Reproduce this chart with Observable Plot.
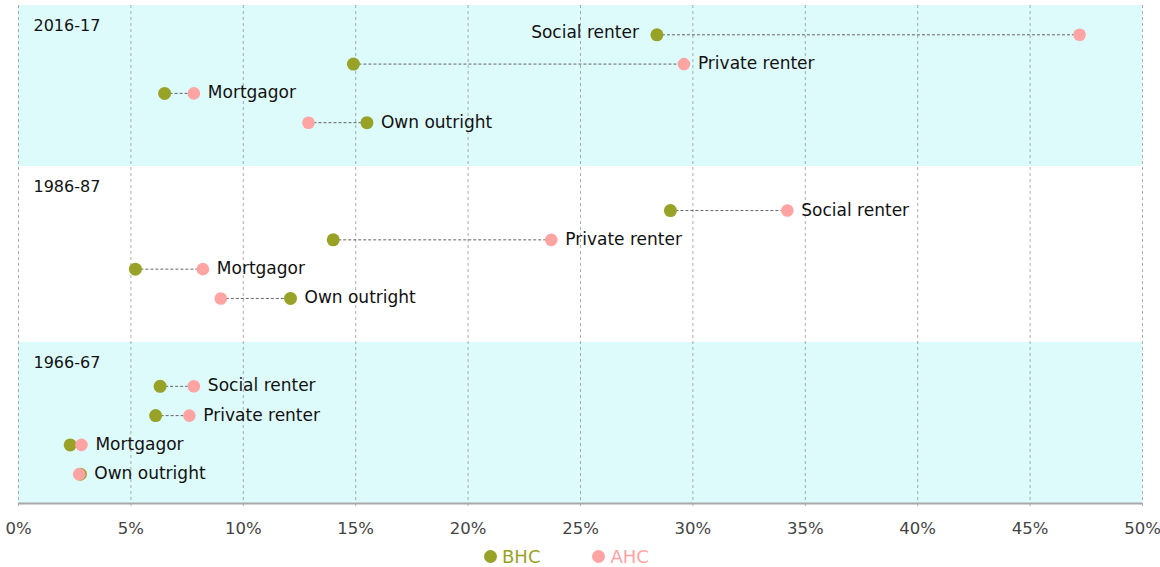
<!DOCTYPE html>
<html>
<head>
<meta charset="utf-8">
<script src="https://cdn.jsdelivr.net/npm/d3@7"></script>
<script src="https://cdn.jsdelivr.net/npm/@observablehq/plot@0.6"></script>
<style>
  body { margin: 0; background: #fff; font-family: "DejaVu Sans", sans-serif; }
  #legend { display: flex; gap: 52px; padding-left: 484px; height: 22px; align-items: center; font-size: 18px; }
  #legend span.item { display: flex; align-items: center; gap: 5px; }
  #legend span.dot { width: 13px; height: 13px; border-radius: 50%; display: inline-block; }
</style>
</head>
<body>
<div id="chart"></div>
<div id="legend"></div>
<script>
const years = ["2016-17", "1986-87", "1966-67"];
const tenures = ["Social renter", "Private renter", "Mortgagor", "Own outright"];
const bhc = {
  "2016-17": [28.4, 14.9, 6.5, 15.5],
  "1986-87": [29.0, 14.0, 5.2, 12.1],
  "1966-67": [6.3, 6.1, 2.3, 2.75]
};
const ahc = {
  "2016-17": [47.2, 29.6, 7.8, 12.9],
  "1986-87": [34.2, 23.7, 8.2, 9.0],
  "1966-67": [7.8, 7.6, 2.8, 2.7]
};
const seriesNames = ["BHC", "AHC"];
const seriesColors = ["#97a227", "#ffa3a3"];
const xTicks = [0, 5, 10, 15, 20, 25, 30, 35, 40, 45, 50];

const rows = [];
years.forEach((yr, p) => {
  tenures.forEach((t, i) => {
    const b = bhc[yr][i], a = ahc[yr][i];
    rows.push({year: yr, panel: p, tenure: t, slot: p * 6 + i + 1, bhc: b, ahc: a,
      lo: Math.min(a, b), hi: Math.max(a, b)});
  });
});
const panels = years.map((yr, p) => ({
  year: yr, p, y1: Math.max(0, p * 6 - 0.5), y2: Math.min(17, p * 6 + 5.5),
  fill: p % 2 === 0 ? "#defbfc" : "#ffffff"
}));
const right = rows.filter(d => d.hi <= 40);
const left = rows.filter(d => d.hi > 40);

const chart = Plot.plot({
  width: 1160,
  height: 545,
  marginLeft: 18,
  marginRight: 18,
  marginTop: 5,
  marginBottom: 42,
  style: {fontFamily: "'DejaVu Sans', sans-serif", background: "transparent"},
  x: {domain: [0, 50], axis: null},
  y: {domain: [0, 17], reverse: true, axis: null},
  marks: [
    Plot.rect(panels, {x1: 0, x2: 50, y1: "y1", y2: "y2", fill: "fill"}),
    Plot.ruleX(xTicks, {y1: 0, y2: 17.2, stroke: "#8a8a8a", strokeOpacity: 0.7, strokeDasharray: "3,3", strokeWidth: 1}),
    Plot.ruleY([17], {x1: 0, x2: 50, stroke: "#a8a8a8", strokeWidth: 2}),
    Plot.axisX(xTicks, {tickSize: 0, tickPadding: 19, tickFormat: d => d + "%", fontSize: 16.5, fill: "#444"}),
    Plot.text(panels, {x: 0, y: d => d.y1 + 0.7, text: "year", textAnchor: "start", dx: 15, fontSize: 16, fill: "#111"}),
    Plot.link(rows, {x1: "lo", x2: "hi", y1: "slot", y2: "slot", stroke: "#555", strokeWidth: 0.9, strokeDasharray: "3,2"}),
    Plot.dot(rows, {x: "bhc", y: "slot", r: 6.5, fill: seriesColors[0]}),
    Plot.dot(rows, {x: "ahc", y: "slot", r: 6.3, fill: seriesColors[1]}),
    Plot.text(right, {x: "hi", y: "slot", text: "tenure", textAnchor: "start", dx: 14, dy: -0.5, fontSize: 17, fill: "#111"}),
    Plot.text(left, {x: "lo", y: "slot", text: "tenure", textAnchor: "end", dx: -18, dy: -2, fontSize: 17, fill: "#111"})
  ]
});
document.getElementById("chart").appendChild(chart);

const legend = document.getElementById("legend");
seriesNames.forEach((n, i) => {
  const item = document.createElement("span");
  item.className = "item";
  item.style.color = seriesColors[i];
  const dot = document.createElement("span");
  dot.className = "dot";
  dot.style.background = seriesColors[i];
  item.appendChild(dot);
  item.appendChild(document.createTextNode(n));
  legend.appendChild(item);
});
</script>
</body>
</html>
